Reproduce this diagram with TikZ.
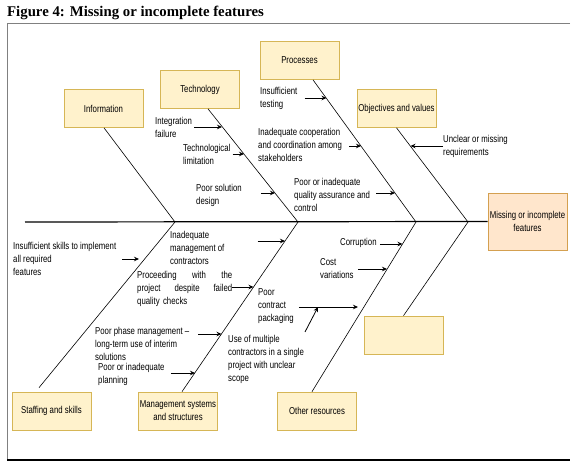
\documentclass[tikz,border=0pt]{standalone}
\usepackage{fontspec}
\setsansfont[FakeStretch=0.78]{Liberation Sans}
\newfontfamily\titlefont{Liberation Serif}
\usepackage{tikz}
\usetikzlibrary{arrows.meta,positioning,calc}
\definecolor{boxfill}{HTML}{FFF2CC}
\definecolor{boxline}{HTML}{D6B656}
\definecolor{efffill}{HTML}{FFE6CC}
\definecolor{effline}{HTML}{D4A050}

\begin{document}
\begin{tikzpicture}[x=1pt,y=-1pt,>={Stealth[length=5pt,width=4.5pt]},
  cat/.style={draw=boxline,fill=boxfill,line width=0.7pt,minimum width=79pt,minimum height=38pt,inner sep=1pt,align=center,font=\sffamily\fontsize{10}{13}\selectfont},
  effect/.style={cat,draw=effline,fill=efffill,minimum height=57pt},
  cause/.style={anchor=north west,inner sep=0pt,align=left,font=\sffamily\fontsize{10}{13}\selectfont},
  bone/.style={line width=0.6pt},
  spine/.style={line width=1.2pt},
  arr/.style={->,line width=0.8pt}]
\useasboundingbox (0,0) rectangle (578,465);
\node[anchor=base west,inner sep=0pt,font=\titlefont\bfseries\fontsize{14.8}{16}\selectfont] (title) at (7,17) {Figure 4: Missing or incomplete features};
\draw[gray,line width=0.8pt] (570,23) -- (7,23) -- (7,460);
\draw[line width=2.5pt] (7,460) -- (570,460);
\node[effect] (eff) at (527.5,221.5) {Missing or incomplete\\features};
\coordinate (head) at (25,222);
\coordinate (j1) at (175,222);
\coordinate (j2) at (298,222);
\coordinate (j3) at (416,222);
\coordinate (j4) at (468,222);
\draw[spine] (head) -- (eff.west);
\node[cat] (info) at (103.5,108.5) {Information};
\node[cat] (tech) at (200,89.5) {Technology};
\node[cat] (proc) at (299.5,60.5) {Processes};
\node[cat] (obj) at (396.5,108.5) {Objectives and values};
\node[cat] (staff) at (51.5,411) {Staffing and skills};
\node[cat] (mgmt) at (178,411) {Management systems\\and structures};
\node[cat] (other) at (317,411) {Other resources};
\node[cat] (blank) at (403.5,335) {};
\draw[bone] ([xshift=0.5pt]info.south) -- (j1);
\draw[bone] ([xshift=8pt]tech.south) -- (j2);
\draw[bone] ([xshift=13.5pt]proc.south) -- (j3);
\draw[bone] (obj.south) -- (j4);
\draw[bone] ([xshift=-12.5pt,yshift=4pt]staff.north) -- (j1);
\draw[bone] ([xshift=4pt]mgmt.north) -- (j2);
\draw[bone] ([xshift=-5pt]other.north) -- (j3);
\draw[bone] (blank.north) -- (j4);
\node[cause] (integ) at (155,117) {Integration\\failure};
\node[cause] (techlim) at (183,144) {Technological\\limitation};
\node[cause] (soldes) at (196,184) {Poor solution\\design};
\node[cause] (testing) at (260,87) {Insufficient\\testing};
\node[cause] (coop) at (258,128) {Inadequate cooperation\\and coordination among\\stakeholders};
\node[cause] (qa) at (294,178) {Poor or inadequate\\quality assurance and\\control};
\node[cause] (unclear) at (443,135) {Unclear or missing\\requirements};
\node[cause] (skills) at (13,242) {Insufficient skills to implement\\all required\\features};
\node[cause] (inmgmt) at (170,231) {Inadequate\\management of\\contractors};
\node[cause,text width=95pt] (proceed) at (137,271) {Proceeding\hfill with\hfill the\\project\hfill despite\hfill failed\\quality checks};
\node[cause] (phase) at (95,327) {Poor phase management –\\long-term use of interim\\solutions};
\node[cause] (planning) at (98,363) {Poor or inadequate\\planning};
\node[cause] (corrupt) at (340,238) {Corruption};
\node[cause] (cost) at (320,258) {Cost\\variations};
\node[cause] (pack) at (258,288) {Poor\\contract\\packaging};
\node[cause] (multi) at (228,335) {Use of multiple\\contractors in a single\\project with unclear\\scope};
\coordinate (hinteg) at (222,127);
\coordinate (htechlim) at (244,154);
\coordinate (hsoldes) at (275,193);
\coordinate (htesting) at (326.5,98);
\coordinate (hcoop) at (361,146);
\coordinate (hqa) at (395,193);
\coordinate (hunclear) at (410.5,146);
\coordinate (hskills) at (139,259);
\coordinate (hinmgmt) at (285,241);
\coordinate (hproceed) at (253.5,287);
\coordinate (hphase) at (221.5,334);
\coordinate (hplanning) at (195,373);
\coordinate (hcorrupt) at (402.5,244);
\coordinate (hcost) at (387,269);
\coordinate (hpack) at (358,307);
\coordinate (mtail) at (305,332);
\coordinate (mhead) at (318,307);
\draw[arr,shorten <=2pt] (integ.east |- hinteg) -- (hinteg);
\draw[arr,shorten <=2pt] (techlim.east |- htechlim) -- (htechlim);
\draw[arr,shorten <=19pt] (soldes.east |- hsoldes) -- (hsoldes);
\draw[arr,shorten <=7pt] (testing.east |- htesting) -- (htesting);
\draw[arr,shorten <=7pt] (coop.east |- hcoop) -- (hcoop);
\draw[arr,shorten <=6pt] (qa.east |- hqa) -- (hqa);
\draw[arr] (unclear.west |- hunclear) -- (hunclear);
\draw[arr,shorten <=6pt] (skills.east |- hskills) -- (hskills);
\draw[arr,shorten <=33pt] (inmgmt.east |- hinmgmt) -- (hinmgmt);
\draw[arr] (proceed.east |- hproceed) -- (hproceed);
\draw[arr,shorten <=9pt] (phase.east |- hphase) -- (hphase);
\draw[arr,shorten <=6pt] (planning.east |- hplanning) -- (hplanning);
\draw[arr,shorten <=3pt] (corrupt.east |- hcorrupt) -- (hcorrupt);
\draw[arr,shorten <=4pt] (cost.east |- hcost) -- (hcost);
\draw[arr,shorten <=5pt] (pack.east |- hpack) -- (hpack);
\draw[arr] (mtail) -- (mhead);
\end{tikzpicture}
\end{document}
